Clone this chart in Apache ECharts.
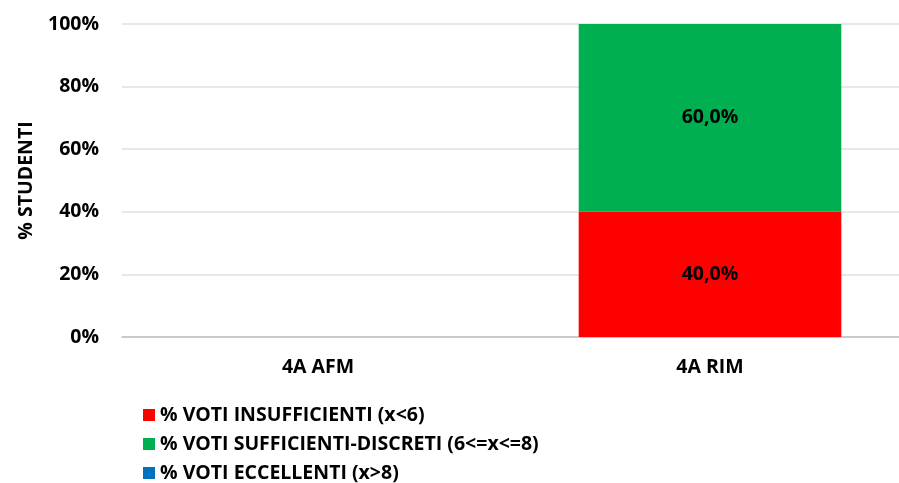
<!DOCTYPE html>
<html><head><meta charset="utf-8">
<script src="https://cdn.jsdelivr.net/npm/echarts@6/dist/echarts.min.js"></script>
<style>html,body{margin:0;padding:0;background:#fff;overflow:hidden}#c{width:906px;height:483px}</style>
</head><body><div id="c"></div>
<script>
const categories = ['4A AFM', '4A RIM'];
const seriesNames = ['% VOTI INSUFFICIENTI (x<6)', '% VOTI SUFFICIENTI-DISCRETI (6<=x<=8)', '% VOTI ECCELLENTI (x>8)'];
const insufficienti = [0, 40.0];
const sufficienti = [0, 60.0];
const eccellenti = [0, 0];
const colors = ['#FF0000', '#00B050', '#0070C0'];
const yTicks = [0, 20, 40, 60, 80, 100];

const FONT = 'Open Sans';
const FS = 19.5;
const chart = echarts.init(document.getElementById('c'), null, {renderer: 'canvas'});
const mk = (name, data, color) => ({
  name, type: 'bar', stack: 'total', data, barWidth: '67%',
  itemStyle: {color},
  label: {
    show: true, position: 'inside', fontFamily: FONT, fontWeight: 'bold', fontSize: FS, color: '#000',
    formatter: p => p.value > 0 ? p.value.toFixed(1).replace('.', ',') + '%' : ''
  }
});
chart.setOption({
  animation: false,
  grid: {left: 122, right: 0, top: 24, bottom: 146, containLabel: false},
  xAxis: {
    type: 'category', data: categories,
    axisLine: {lineStyle: {color: '#BFBFBF', width: 1.5}},
    axisTick: {show: false},
    axisLabel: {fontFamily: FONT, fontWeight: 'bold', fontSize: FS, color: '#000', margin: 20}
  },
  yAxis: {
    type: 'value', min: 0, max: 100, interval: 20,
    name: '% STUDENTI', nameLocation: 'middle', nameGap: 86, nameRotate: 90,
    nameTextStyle: {fontFamily: FONT, fontWeight: 'bold', fontSize: FS, color: '#000'},
    axisLine: {show: false}, axisTick: {show: false},
    splitLine: {lineStyle: {color: '#E0E0E0', width: 1.5}},
    axisLabel: {fontFamily: FONT, fontWeight: 'bold', fontSize: FS, color: '#000', margin: 23,
      formatter: v => yTicks.includes(v) ? v + '%' : ''}
  },
  legend: {
    orient: 'vertical', left: 138, top: 400, height: 90, itemWidth: 12, itemHeight: 12, itemGap: 9,
    icon: 'rect',
    textStyle: {fontFamily: FONT, fontWeight: 'bold', fontSize: FS, color: '#000'},
    data: seriesNames
  },
  series: [
    mk(seriesNames[0], insufficienti, colors[0]),
    mk(seriesNames[1], sufficienti, colors[1]),
    mk(seriesNames[2], eccellenti, colors[2])
  ]
});
</script></body></html>
